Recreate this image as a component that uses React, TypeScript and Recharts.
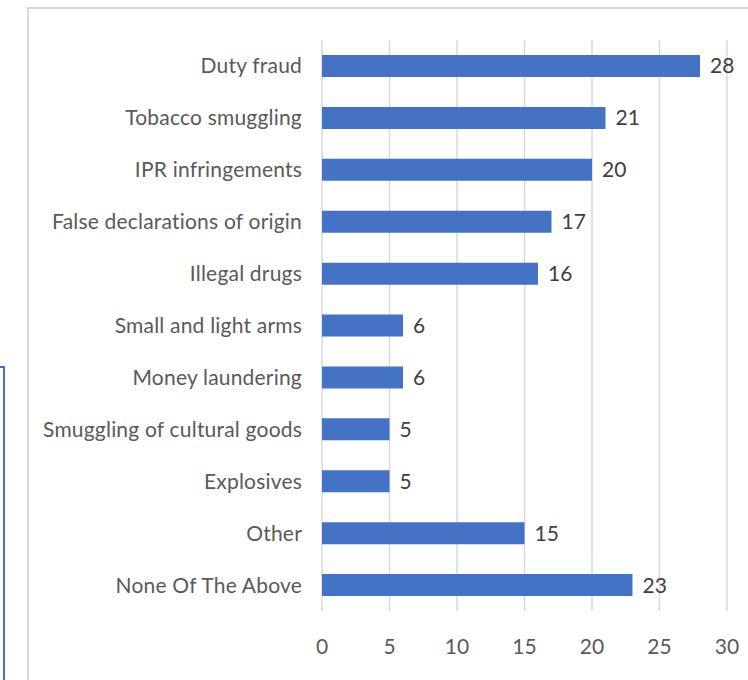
import React from 'react';
import { BarChart, Bar, XAxis, YAxis, CartesianGrid, LabelList } from 'recharts';

const categories = [
    'Duty fraud',
    'Tobacco smuggling',
    'IPR infringements',
    'False declarations of origin',
    'Illegal drugs',
    'Small and light arms',
    'Money laundering',
    'Smuggling of cultural goods',
    'Explosives',
    'Other',
    'None Of The Above',
];
const counts = [28, 21, 20, 17, 16, 6, 6, 5, 5, 15, 23];
const xTicks = [0, 5, 10, 15, 20, 25, 30];

const data = categories.map((name, i) => ({ name, value: counts[i] }));

const font = "Lato, 'Open Sans', sans-serif";

const App: React.FC = () => {
    return (
        <div style={{ position: 'absolute', left: 0, top: 0, width: 748, height: 680, overflow: 'hidden', background: '#fff' }}>
            {/* light frame around the chart */}
            <div style={{ position: 'absolute', left: 27, top: 7, width: 760, height: 700, border: '2px solid #d9d9d9', boxSizing: 'border-box' }} />
            {/* corner of a blue box cut by the left edge */}
            <div style={{ position: 'absolute', left: -100, top: 366, width: 105, height: 400, border: '2px solid #4472c4', boxSizing: 'border-box' }} />
            <div style={{ position: 'absolute', left: 28, top: 8 }}>
                <BarChart
                    width={720}
                    height={673}
                    data={data}
                    layout="vertical"
                    margin={{ top: 32, right: 21, bottom: 0, left: 0 }}
                >
                    <CartesianGrid horizontal={false} stroke="#d9d9d9" strokeWidth={1.5} />
                    <XAxis
                        type="number"
                        domain={[0, 30]}
                        ticks={xTicks}
                        axisLine={false}
                        tickLine={false}
                        tickMargin={22}
                        height={70}
                        tick={{ fill: '#595959', fontSize: 21, fontFamily: font }}
                    />
                    <YAxis
                        type="category"
                        dataKey="name"
                        width={294}
                        axisLine={false}
                        tickLine={false}
                        tickMargin={14}
                        interval={0}
                        tick={{ fill: '#595959', fontSize: 21, fontFamily: font, letterSpacing: 0.2 }}
                    />
                    <Bar dataKey="value" fill="#4472c4" barSize={22} isAnimationActive={false}>
                        <LabelList
                            dataKey="value"
                            position="right"
                            offset={10}
                            style={{ fill: '#404040', fontSize: 21, fontFamily: font }}
                        />
                    </Bar>
                </BarChart>
            </div>
        </div>
    );
};

export default App;
